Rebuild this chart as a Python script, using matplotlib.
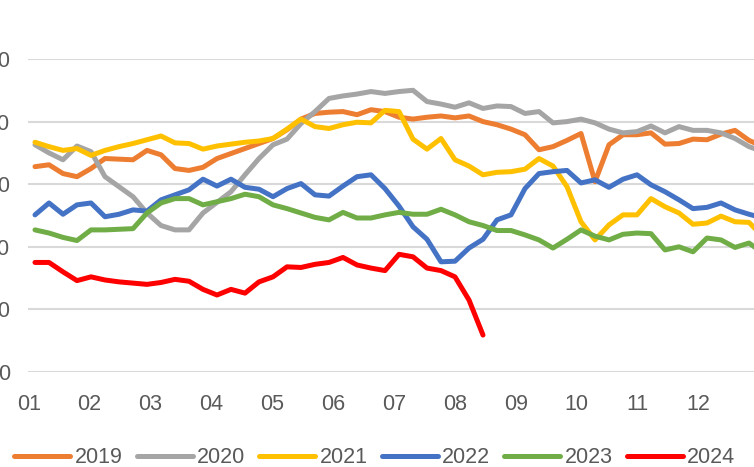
import numpy as np
import matplotlib.pyplot as plt

# weekly series, one value per week
y2019 = [32.8, 33.1, 31.7, 31.2, 32.5, 34.1, 34.0, 33.9, 35.4, 34.7, 32.5, 32.2, 32.7, 34.1,
         34.9, 35.7, 36.5, 37.3, 38.7, 40.4, 41.3, 41.5, 41.6, 41.1, 41.9, 41.6, 40.7, 40.4,
         40.7, 40.9, 40.6, 40.9, 40.0, 39.5, 38.8, 37.9, 35.5, 36.0, 37.0, 38.1, 30.4, 36.3,
         37.9, 37.9, 38.2, 36.4, 36.5, 37.2, 37.1, 38.0, 38.6, 37.0, 36.0]
y2020 = [36.3, 35.0, 33.9, 36.1, 35.2, 31.2, 29.6, 28.0, 25.4, 23.4, 22.7, 22.7, 25.4, 27.1,
         28.8, 31.5, 34.1, 36.3, 37.2, 39.7, 41.6, 43.7, 44.1, 44.4, 44.8, 44.5, 44.8, 45.0,
         43.2, 42.8, 42.3, 43.0, 42.1, 42.5, 42.4, 41.3, 41.6, 39.8, 40.0, 40.4, 39.8, 38.8,
         38.2, 38.4, 39.3, 38.2, 39.2, 38.6, 38.6, 38.2, 37.3, 36.0, 35.2]
y2021 = [36.7, 36.0, 35.4, 35.7, 34.6, 35.4, 36.0, 36.5, 37.1, 37.7, 36.6, 36.5, 35.6, 36.1,
         36.4, 36.7, 36.9, 37.3, 38.8, 40.4, 39.2, 38.9, 39.5, 39.9, 39.8, 41.8, 41.6, 37.2,
         35.6, 37.3, 33.9, 32.9, 31.5, 31.9, 32.0, 32.4, 34.1, 32.9, 29.6, 24.0, 21.1, 23.5,
         25.1, 25.1, 27.7, 26.4, 25.4, 23.6, 23.8, 24.9, 24.0, 23.9, 21.6]
y2022 = [25.1, 27.0, 25.2, 26.7, 27.0, 24.8, 25.2, 25.9, 25.7, 27.5, 28.3, 29.1, 30.8, 29.7,
         30.8, 29.5, 29.2, 28.0, 29.3, 30.1, 28.3, 28.1, 29.7, 31.2, 31.5, 29.3, 26.5, 23.2,
         21.2, 17.6, 17.7, 19.8, 21.2, 24.3, 25.1, 29.3, 31.7, 32.0, 32.2, 30.2, 30.7, 29.5,
         30.8, 31.5, 29.9, 28.8, 27.5, 26.1, 26.3, 27.0, 25.9, 25.2, 24.6]
y2023 = [22.7, 22.2, 21.5, 21.0, 22.7, 22.7, 22.8, 22.9, 25.4, 27.0, 27.7, 27.7, 26.7, 27.2,
         27.7, 28.4, 28.0, 26.7, 26.1, 25.4, 24.7, 24.3, 25.5, 24.6, 24.6, 25.1, 25.5, 25.2,
         25.2, 26.0, 25.1, 24.0, 23.4, 22.6, 22.6, 21.9, 21.1, 19.8, 21.2, 22.7, 21.7, 21.1,
         22.0, 22.2, 22.1, 19.5, 20.0, 19.2, 21.4, 21.1, 19.9, 20.6, 19.0]
y2024 = [17.5, 17.5, 16.0, 14.6, 15.2, 14.7, 14.4, 14.2, 14.0, 14.3, 14.8, 14.5, 13.2, 12.3,
         13.2, 12.6, 14.4, 15.2, 16.8, 16.7, 17.2, 17.5, 18.3, 17.1, 16.6, 16.2, 18.8, 18.4,
         16.6, 16.2, 15.2, 11.5, 5.9]

years = ['2019', '2020', '2021', '2022', '2023', '2024']
colors = ['#ED7D31', '#A5A5A5', '#FFC000', '#4472C4', '#70AD47', '#FF0000']
months = ['01', '02', '03', '04', '05', '06', '07', '08', '09', '10', '11', '12']
yticks = [0, 10, 20, 30, 40, 50]

plt.rcParams['font.family'] = ['Liberation Sans', 'DejaVu Sans']

fig = plt.figure(figsize=(7.54, 4.67), dpi=100)
ax = fig.add_axes([28 / 754, 95 / 467, 742 / 754, 313 / 467])

series = [y2019, y2020, y2021, y2022, y2023, y2024]
for lab, vals, col in zip(years, series, colors):
    ax.plot(np.arange(len(vals)), vals, color=col, lw=3.6, label=lab,
            solid_capstyle='round', solid_joinstyle='round')

ax.set_xlim(-0.5, 52.5)
ax.set_ylim(0, 50)
ax.set_yticks(yticks)
ax.set_yticklabels([str(v) for v in yticks])
ax.set_xticks([m * 4.35 - 0.45 for m in range(len(months))])
ax.set_xticklabels(months)
ax.grid(axis='y', color='#D9D9D9', lw=1.5)
ax.set_axisbelow(True)
for s in ax.spines.values():
    s.set_visible(False)
ax.tick_params(axis='both', length=0, labelsize=15.5, colors='#595959')
ax.tick_params(axis='x', pad=16)
ax.tick_params(axis='y', pad=13)

leg = fig.legend(loc='center', bbox_to_anchor=(0.497, 0.02), ncol=6, frameon=False,
                 fontsize=15.5, labelcolor='#595959', handlelength=2.6, handletextpad=0.2,
                 columnspacing=0.66, borderaxespad=0, borderpad=0)
for h in leg.get_lines():
    h.set_solid_capstyle('round')

fig.savefig('out.png', dpi=100)
